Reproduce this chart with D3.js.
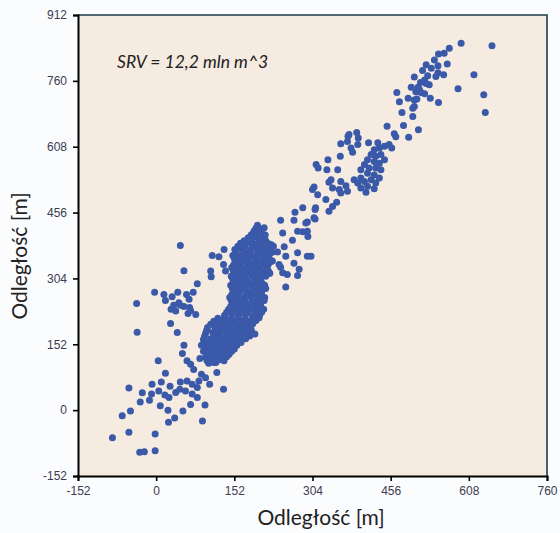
<!DOCTYPE html>
<html><head><meta charset="utf-8">
<script src="https://cdn.jsdelivr.net/npm/d3@7"></script>
<style>body{margin:0;background:#fbfcfe;}svg{display:block}</style>
</head><body>
<svg id="c" width="560" height="533"></svg>
<script>
const xTicks = [-152, 0, 152, 304, 456, 608, 760];
const yTicks = [-152, 0, 152, 304, 456, 608, 760, 912];
const xLabel = "Odległość [m]";
const yLabel = "Odległość [m]";
const note = "SRV = 12,2 mln m^3";

const lowerScatter = [
[-37,180],[41,179],[54,150],[51,131],[4,114],[60,114],[67,106],[18,85],[73,94],[85,119],[99,114],[112,110],[118,87],[88,83],[96,75],[83,67],[-53,51],[-8,60],[10,65],[27,55],[47,65],[60,67],[70,60],[80,52],[104,60],[131,48],[-27,40],[-9,37],[5,44],[17,35],[25,29],[38,41],[46,48],[57,44],[70,37],[80,29],[-31,19],[-13,23],[8,10],[23,0],[52,-2],[67,13],[95,12],[-50,-2],[-66,-13],[36,-18],[24,-28],[90,-25],[-53,-51],[-85,-64],[-2,-55],[-32,-97],[-23,-96],[-2,-94]
];
const leftCluster = [
[47,380],[54,322],[-3,272],[-38,246],[15,267],[18,253],[31,262],[42,272],[59,267],[72,272],[80,292],[34,242],[44,248],[64,256],[29,233],[38,229],[54,239],[65,237],[62,223],[77,221],[28,200],[67,230],[47,242]
];
const denseBand = [
[197,427],[190,413],[205,410],[179,398],[194,400],[208,396],
[164,385],[178,387],[192,383],[205,386],[219,384],
[153,371],[166,373],[182,369],[196,372],[209,370],[223,371],
[149,357],[162,355],[176,358],[190,356],[203,359],[217,357],
[155,343],[168,345],[182,341],[196,344],[209,342],[223,343],
[147,329],[160,331],[174,328],[188,330],[201,327],[215,330],
[153,316],[166,314],[180,317],[194,315],[207,317],[221,316],
[149,302],[162,304],[176,301],[190,303],[203,300],
[145,288],[158,290],[172,287],[186,289],[199,286],[211,288],
[151,274],[164,276],[178,273],[192,275],[205,272],
[143,260],[157,262],[170,259],[184,261],[198,258],[211,260],
[149,246],[162,248],[176,245],[190,247],[203,244],
[141,233],[155,235],[168,232],[182,234],[196,231],[209,233],
[133,219],[147,221],[160,218],[174,220],[188,217],[201,219],
[112,205],[125,207],[139,204],[153,206],[166,203],[180,205],[194,207],
[100,191],[114,193],[127,190],[141,192],[155,189],[168,191],[182,193],
[96,177],[110,179],[123,176],[137,178],[151,175],[164,177],[178,179],[192,176],
[92,163],[106,165],[119,162],[133,164],[147,161],[160,163],[174,165],
[88,150],[102,152],[116,149],[129,151],[143,148],[157,150],
[92,136],[106,138],[119,135],[133,137],[147,136],
[96,122],[110,124],[123,121],[137,123],
[102,108],[116,110]
];
const denseBandFill = [
[194,420],[201,418],
[185,405],[199,406],[212,404],
[171,391],[186,392],[200,390],[213,391],
[159,378],[173,379],[187,377],[201,378],[215,376],[228,378],
[156,364],[170,365],[184,363],[198,364],[212,362],[225,364],
[152,350],[166,351],[179,349],[193,350],[207,348],[220,350],
[151,336],[164,337],[178,335],[192,336],[205,334],[218,336],
[150,322],[163,323],[177,321],[191,322],[204,320],[218,322],
[146,309],[159,310],[173,308],[187,309],[200,307],[213,309],
[152,295],[165,296],[179,294],[193,295],[206,293],
[148,281],[161,282],[175,280],[189,281],[202,279],[213,281],
[147,267],[160,268],[174,266],[188,267],[201,265],
[146,253],[159,254],[173,252],[187,253],[200,251],[210,253],
[145,240],[158,241],[172,239],[186,240],[199,238],
[137,226],[151,227],[164,225],[178,226],[192,224],[205,226],
[120,212],[133,213],[146,211],[160,212],[173,210],[187,211],[200,213],
[106,198],[119,199],[133,197],[147,198],[160,196],[174,197],[188,199],
[98,184],[117,185],[130,183],[144,184],[158,182],[171,183],[185,185],
[94,170],[113,171],[126,169],[140,170],[154,168],[168,169],[182,171],
[95,157],[109,158],[123,156],[137,157],[151,155],[165,156],
[97,143],[111,144],[125,142],[139,143],[152,141],
[101,129],[115,130],[128,128],[142,129],
[106,115],[121,116],[132,114]
];
const rightOfBand = [
[270,457],[285,467],[242,438],[268,438],[294,434],[309,441],[309,463],[275,413],[246,409],[285,412],[295,401],[265,392],[224,382],[249,377],[236,365],[275,363],[252,355],[294,355],[301,355],[268,339],[239,336],[226,344],[278,325],[246,317],[255,313],[275,311],[219,316],[252,284],[242,330],[307,444],[291,432],[294,413],[310,467],[210,421],[109,357],[122,354],[132,371],[106,321],[107,308],[131,336],[135,321]
];
const midBand = [
[336,459],[343,470],[351,480],[330,486],[314,497],[307,515],[304,509],[343,513],[356,509],[372,505],[369,518],[359,528],[340,532],[336,526],[359,501],[311,567],[315,559],[334,578],[332,555],[353,555],[358,586],[359,615],[373,632],[372,620],[390,641],[393,628],[379,605],[382,595],[392,613],[413,617],[375,636],[398,555]
];
const secondCluster = [
[424,601],[434,605],[444,609],[453,613],[418,590],[427,586],[437,590],[411,578],[424,574],[434,570],[444,578],[405,567],[414,559],[427,559],[437,555],[411,547],[424,543],[434,536],[398,536],[392,524],[405,528],[418,532],[427,524],[411,517],[398,513],[408,503],[424,511],[385,532],[431,617],[458,605]
];
const upperBand = [
[593,847],[653,841],[570,835],[560,824],[549,822],[541,808],[566,799],[525,797],[548,795],[518,784],[548,779],[559,774],[528,772],[502,769],[544,770],[618,774],[522,762],[514,756],[525,754],[496,745],[509,745],[587,742],[505,735],[515,733],[468,733],[522,730],[637,728],[490,720],[502,716],[507,718],[533,720],[473,712],[549,710],[502,701],[499,697],[478,687],[640,687],[499,678],[449,655],[481,657],[510,647],[463,638],[491,630],[466,631],[535,789],[531,751],[512,740]
];

const allPoints = [].concat(lowerScatter, leftCluster, denseBand, denseBandFill, rightOfBand, midBand, secondCluster, upperBand);

const W = 560, H = 533;
const svg = d3.select("#c");
const x = d3.scaleLinear().domain([-152, 760]).range([78, 547]);
const y = d3.scaleLinear().domain([-152, 912]).range([476, 15]);

svg.append("rect").attr("width", W).attr("height", H).attr("fill", "#fbfcfe");
svg.append("rect").attr("x", x(-152)).attr("y", y(912))
  .attr("width", x(760) - x(-152)).attr("height", y(-152) - y(912)).attr("fill", "#f5ebe0");

svg.append("g").selectAll("circle").data(allPoints).join("circle")
  .attr("cx", d => x(d[0])).attr("cy", d => y(d[1])).attr("r", 3.5)
  .attr("fill", "#3a59a9");

svg.append("path")
  .attr("d", `M${x(-152)},${y(912)}H${x(760)}V${y(-152)}`)
  .attr("fill", "none").attr("stroke", "#1d3c4c").attr("stroke-width", 1.6);

const tickFont = "'Liberation Sans', Arial, sans-serif";
const gx = svg.append("g").attr("transform", `translate(0,${y(-152)})`)
  .call(d3.axisBottom(x).tickValues(xTicks).tickSize(5).tickPadding(5).tickFormat(d3.format("d")));
const gy = svg.append("g").attr("transform", `translate(${x(-152)},0)`)
  .call(d3.axisLeft(y).tickValues(yTicks).tickSize(5).tickPadding(6).tickFormat(d3.format("d")));
[gx, gy].forEach(g => {
  g.select(".domain").attr("stroke", "#000").attr("stroke-width", 2);
  g.selectAll(".tick line").attr("stroke", "#000").attr("stroke-width", 1.6);
  g.selectAll(".tick text").attr("fill", "#3b3b4f").style("font-family", tickFont).style("font-size", "12px");
});
gx.selectAll(".tick text").text(d => d < 0 ? "-" + Math.abs(d) : d);
gy.selectAll(".tick text").text(d => d < 0 ? "-" + Math.abs(d) : d);

svg.append("text").attr("x", 117).attr("y", 68)
  .style("font-family", "Lato, 'Open Sans', sans-serif").style("font-style", "italic")
  .style("font-size", "17.5px").attr("fill", "#222").text(note);

svg.append("text").attr("x", 321).attr("y", 525)
  .attr("text-anchor", "middle")
  .style("font-family", "Lato, 'Open Sans', sans-serif").style("font-size", "21px")
  .attr("fill", "#222").text(xLabel);

svg.append("text").attr("transform", `translate(27,256) rotate(-90)`)
  .attr("text-anchor", "middle")
  .style("font-family", "Lato, 'Open Sans', sans-serif").style("font-size", "21px")
  .attr("fill", "#222").text(yLabel);
</script>
</body></html>
